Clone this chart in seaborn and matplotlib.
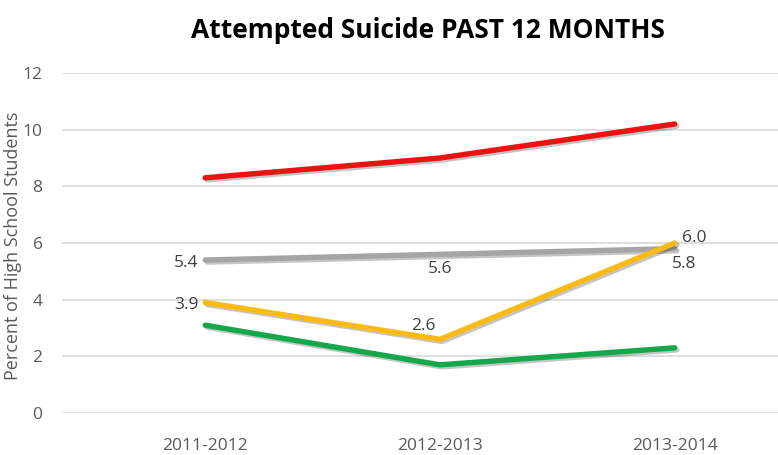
import pandas as pd
import matplotlib
matplotlib.use("Agg")
import matplotlib.pyplot as plt
import matplotlib.patheffects as pe
import seaborn as sns

years = ["2011-2012", "2012-2013", "2013-2014"]
red_vals = [8.3, 9.0, 10.2]
gray_vals = [5.4, 5.6, 5.8]
yellow_vals = [3.9, 2.6, 6.0]
green_vals = [3.1, 1.7, 2.3]

series = {"red": red_vals, "gray": gray_vals, "yellow": yellow_vals, "green": green_vals}
colors = {"red": "#ee1111", "gray": "#a5a5a5", "yellow": "#fbbb14", "green": "#15a84a"}

rows = []
for name, vals in series.items():
    for i, v in enumerate(vals):
        rows.append({"year": years[i], "pos": i, "value": v, "series": name})
df = pd.DataFrame(rows)

sns.set_theme(style="white")
plt.rcParams['font.family'] = ['Open Sans', 'DejaVu Sans']

fig = plt.figure(figsize=(7.78, 4.55), dpi=100)
ax = fig.add_axes([62 / 778, 1 - 413 / 455, 1 - 62 / 778, (413 - 73) / 455])

sns.lineplot(data=df, x="pos", y="value", hue="series", palette=colors,
             linewidth=3.9, legend=False, ax=ax, zorder=3)
for line in ax.get_lines():
    line.set_solid_capstyle("round")
    line.set_path_effects([pe.SimpleLineShadow(offset=(1.5, -1.5), alpha=0.25), pe.Normal()])

ax.set_ylim(0, 12)
ax.set_xlim(-0.61, 2.44)
ax.set_yticks(range(0, 13, 2))
ax.set_xticks(range(len(years)))
ax.set_xticklabels(years)
ax.yaxis.grid(True, color="#d9d9d9", linewidth=1.2)
ax.set_axisbelow(True)
for s in ax.spines.values():
    s.set_visible(False)
ax.tick_params(axis="both", length=0, labelsize=12.5, labelcolor="#595959")
ax.tick_params(axis="y", pad=14)
ax.tick_params(axis="x", pad=18)
ax.set_xlabel("")
ax.set_ylabel("")
fig.text(13 / 778, 1 - 246 / 455, "Percent of High School Students", rotation=90,
         ha="center", va="center", fontsize=13, color="#595959")

lab = dict(fontsize=12.5, color="#404040")
ax.text(-0.03, gray_vals[0] - 0.1, f"{gray_vals[0]:.1f}", ha="right", va="center", **lab)
ax.text(1.0, gray_vals[1] - 0.25, f"{gray_vals[1]:.1f}", ha="center", va="top", **lab)
ax.text(2.04, gray_vals[2] - 0.25, f"{gray_vals[2]:.1f}", ha="center", va="top", **lab)
ax.text(-0.03, yellow_vals[0] - 0.1, f"{yellow_vals[0]:.1f}", ha="right", va="center", **lab)
ax.text(0.93, yellow_vals[1] + 0.2, f"{yellow_vals[1]:.1f}", ha="center", va="bottom", **lab)
ax.text(2.03, yellow_vals[2] - 0.1, f"{yellow_vals[2]:.1f}", ha="left", va="bottom", **lab)

fig.text(428 / 778, 1 - 31 / 455, "Attempted Suicide PAST 12 MONTHS", ha="center", va="center",
         fontsize=19, fontweight="bold", color="#000000")

fig.savefig("out.png", dpi=100)
